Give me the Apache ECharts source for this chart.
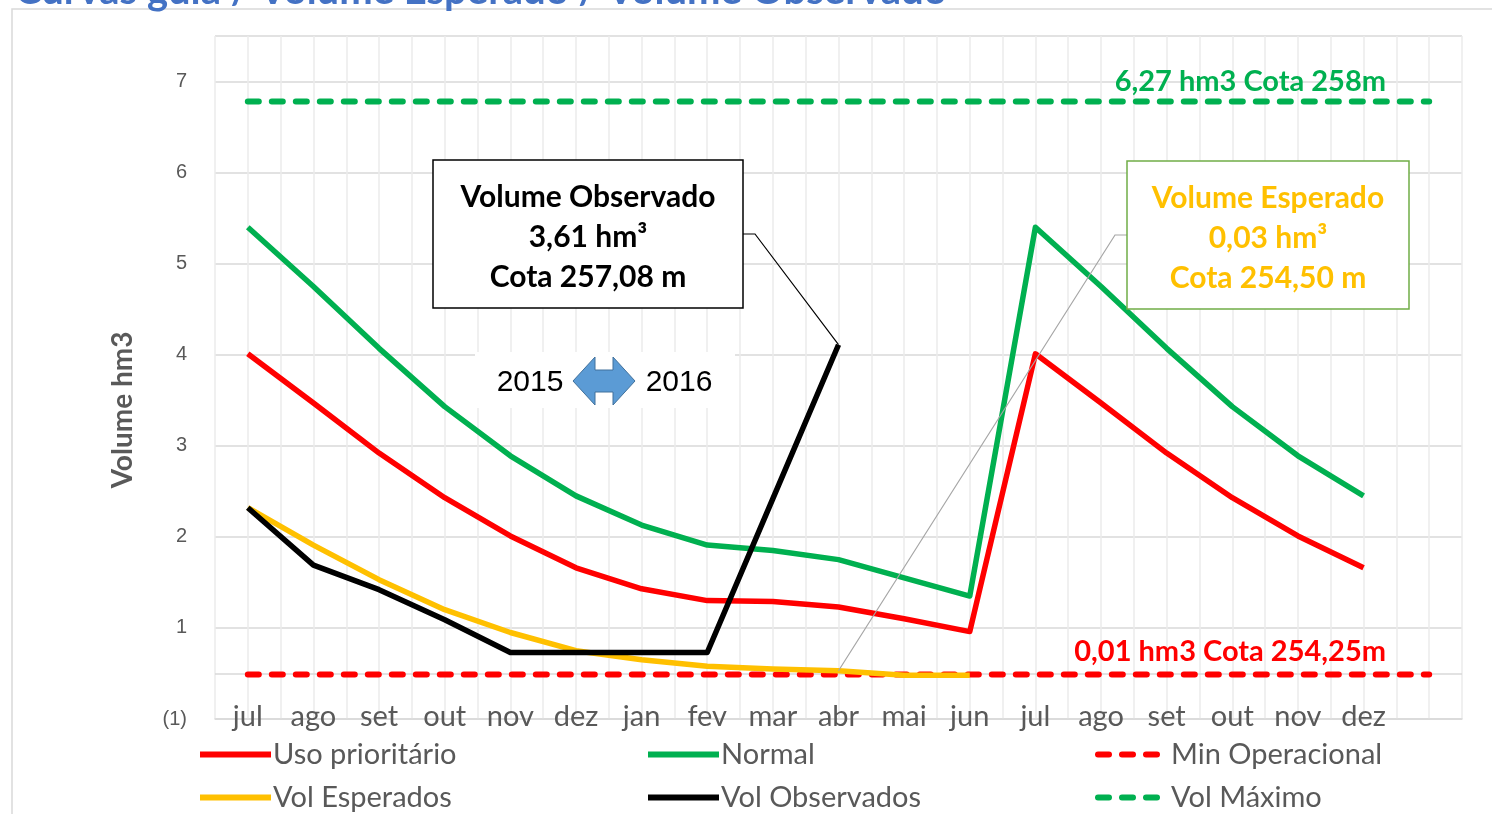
<!DOCTYPE html>
<html>
<head>
<meta charset="utf-8">
<script src="https://cdn.jsdelivr.net/npm/echarts@6/dist/echarts.min.js"></script>
<style>
  html, body { margin: 0; padding: 0; background: #fff; }
  #cht { width: 1492px; height: 814px; }
</style>
</head>
<body>
<div id="cht"></div>
<script>
// meses (jul/2015 .. dez/2016)
var months = ['jul','ago','set','out','nov','dez','jan','fev','mar','abr','mai','jun',
              'jul','ago','set','out','nov','dez'];
var yTickLabels = ['(1)','1','2','3','4','5','6','7'];

var usoPrioritario = [4.01,3.47,2.92,2.43,2.01,1.66,1.43,1.30,1.29,1.23,1.10,0.96,
                      4.01,3.47,2.92,2.43,2.01,1.66];
var normal = [5.40,4.75,4.07,3.43,2.89,2.45,2.13,1.91,1.85,1.75,1.55,1.35,
              5.40,4.75,4.07,3.43,2.89,2.45];
var volEsperados = [2.32,1.91,1.53,1.20,0.95,0.75,0.65,0.58,0.55,0.53,0.48,0.48];
var volObservados = [2.32,1.69,1.42,1.09,0.73,0.73,0.73,0.73,2.42,4.11];
var minOperacional = [0.49,0.49,0.49,0.49,0.49,0.49,0.49,0.49,0.49,0.49,
                      0.49,0.49,0.49,0.49,0.49,0.49,0.49,0.49,0.49];
var volMaximo = [6.78,6.78,6.78,6.78,6.78,6.78,6.78,6.78,6.78,6.78,
                 6.78,6.78,6.78,6.78,6.78,6.78,6.78,6.78,6.78];

var calibri = 'Lato, "Open Sans", sans-serif';
var arial = '"Liberation Sans", Arial, sans-serif';

function pairs(arr) {
    return arr.map(function (v, i) { return [i, v]; });
}

function lineSeries(name, data, color, dashed) {
    return {
        name: name,
        type: 'line',
        data: pairs(data),
        symbol: 'none',
        silent: true,
        lineStyle: {
            color: color,
            width: dashed ? 6 : 5.5,
            type: dashed ? [11, 13] : 'solid',
            cap: dashed ? 'round' : 'butt',
            join: 'round'
        },
        itemStyle: { color: color }
    };
}

function legendAt(name, left, top) {
    return {
        data: [name],
        left: left,
        top: top,
        padding: 0,
        itemWidth: 71,
        itemHeight: 14,
        itemGap: 5,
        selectedMode: false,
        itemStyle: { opacity: 0 },
        lineStyle: { width: 6 },
        textStyle: { fontSize: 29, color: '#595959', fontFamily: calibri, padding: [0, 0, 0, -3] }
    };
}

var config = {
    animation: false,
    grid: { left: 215, right: 30, top: 36, bottom: 95 },
    xAxis: {
        type: 'value',
        min: -0.5,
        max: 18.5,
        interval: 0.5,
        axisLine: { show: true, lineStyle: { color: '#D9D9D9', width: 1.5 } },
        axisTick: { show: false },
        splitLine: { show: true, lineStyle: { color: '#EBEBEB', width: 1.5 } },
        axisLabel: {
            margin: -17,
            fontSize: 29,
            color: '#595959',
            fontFamily: calibri,
            showMinLabel: true,
            showMaxLabel: true,
            formatter: function (v) {
                return Number.isInteger(v) && months[v] ? months[v] : '';
            }
        }
    },
    yAxis: {
        type: 'value',
        min: 0,
        max: 7.5,
        interval: 1,
        axisLine: { show: false },
        axisTick: { show: false },
        splitLine: { lineStyle: { color: '#D9D9D9', width: 1.5 } },
        axisLabel: {
            margin: 28,
            fontSize: 20,
            color: '#595959',
            fontFamily: arial,
            formatter: function (v) {
                return Number.isInteger(v) && yTickLabels[v] ? yTickLabels[v] : '';
            }
        }
    },
    legend: [
        legendAt('Uso prioritário', 197, 740),
        legendAt('Normal', 645, 740),
        legendAt('Min Operacional', 1095, 740),
        legendAt('Vol Esperados', 197, 783),
        legendAt('Vol Observados', 645, 783),
        legendAt('Vol Máximo', 1095, 783)
    ],
    series: [
        lineSeries('Uso prioritário', usoPrioritario, '#FF0000', false),
        lineSeries('Normal', normal, '#00B050', false),
        lineSeries('Min Operacional', minOperacional, '#FF0000', true),
        lineSeries('Vol Esperados', volEsperados, '#FFC000', false),
        lineSeries('Vol Observados', volObservados, '#000000', false),
        lineSeries('Vol Máximo', volMaximo, '#00B050', true)
    ]
};
// linha de grade em 0,5 (fica sob a linha tracejada)
config.series[2].markLine = {
    silent: true, symbol: 'none', label: { show: false },
    lineStyle: { color: '#D9D9D9', width: 1.5, type: 'solid' },
    data: [{ yAxis: 0.5 }], z: 0
};

window.onload = function () {
    var myChart = echarts.init(document.getElementById('cht'));
    myChart.setOption(config);

    var pObs = myChart.convertToPixel({ gridIndex: 0 }, [9, volObservados[9]]);
    var pEsp = myChart.convertToPixel({ gridIndex: 0 }, [9, volEsperados[9]]);

    myChart.setOption({
        graphic: [
            // moldura e titulo cortado
            { type: 'rect', z: 0, shape: { x: 12, y: 9, width: 1500, height: 900 },
              style: { fill: null, stroke: '#D9D9D9', lineWidth: 1.5 } },
            { type: 'text', z: 5, style: { x: 15, y: 11, text: 'Curvas guia / Volume Esperado / Volume Observado',
              font: 'bold 40px ' + calibri, fill: '#4472C4', verticalAlign: 'bottom' } },
            // titulo do eixo y
            { type: 'text', z: 5, x: 123, y: 410, rotation: Math.PI / 2,
              style: { x: 0, y: 0, text: 'Volume hm3', align: 'center', verticalAlign: 'middle',
              font: 'bold 28px ' + calibri, fill: '#595959' } },
            // rotulos das linhas tracejadas
            { type: 'text', z: 5, style: { x: 1386, y: 82, text: '6,27 hm3 Cota 258m', align: 'right',
              verticalAlign: 'middle', font: 'bold 29px ' + calibri, fill: '#00B050' } },
            { type: 'text', z: 5, style: { x: 1386, y: 652, text: '0,01 hm3 Cota 254,25m', align: 'right',
              verticalAlign: 'middle', font: 'bold 29px ' + calibri, fill: '#FF0000' } },
            // 2015 <-> 2016
            { type: 'rect', z: 1, shape: { x: 475, y: 352, width: 260, height: 56 },
              style: { fill: '#fff' } },
            { type: 'text', z: 5, style: { x: 530, y: 383, text: '2015', align: 'center', verticalAlign: 'middle',
              font: '30px ' + arial, fill: '#000' } },
            { type: 'text', z: 5, style: { x: 679, y: 383, text: '2016', align: 'center', verticalAlign: 'middle',
              font: '30px ' + arial, fill: '#000' } },
            { type: 'polygon', z: 5, shape: { points: [[573,381],[595,357],[595,370],[613,370],[613,357],
              [635,381],[613,405],[613,392],[595,392],[595,405]] },
              style: { fill: '#5B9BD5', stroke: '#41719C', lineWidth: 1 } },
            // caixa Volume Observado
            { type: 'polyline', z: 6, shape: { points: [[743,234],[755,234],[pObs[0], pObs[1]]] },
              style: { stroke: '#000', lineWidth: 1.2, fill: null } },
            { type: 'rect', z: 6, shape: { x: 433, y: 160, width: 310, height: 148 },
              style: { fill: '#fff', stroke: '#000', lineWidth: 1.5 } },
            { type: 'text', z: 7, style: { x: 588, y: 237, text: 'Volume Observado\n3,61 hm³\nCota 257,08 m',
              align: 'center', verticalAlign: 'middle', lineHeight: 40,
              font: 'bold 30px ' + calibri, fill: '#000' } },
            // caixa Volume Esperado
            { type: 'polyline', z: 6, shape: { points: [[1127,235],[1115,235],[pEsp[0], pEsp[1]]] },
              style: { stroke: '#A6A6A6', lineWidth: 1.2, fill: null } },
            { type: 'rect', z: 6, shape: { x: 1127, y: 161, width: 282, height: 148 },
              style: { fill: '#fff', stroke: '#70AD47', lineWidth: 1.5 } },
            { type: 'text', z: 7, style: { x: 1268, y: 238, text: 'Volume Esperado\n0,03 hm³\nCota 254,50 m',
              align: 'center', verticalAlign: 'middle', lineHeight: 40,
              font: 'bold 30px ' + calibri, fill: '#FFC000' } }
        ]
    });
};
</script>
</body>
</html>
